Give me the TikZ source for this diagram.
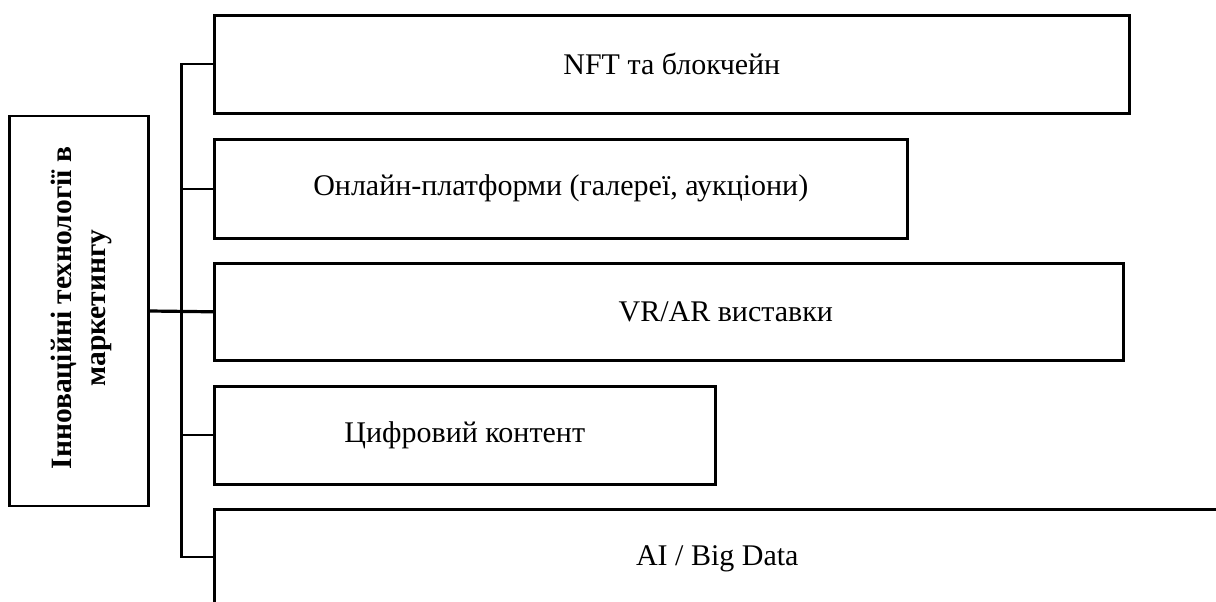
\documentclass[tikz,border=0pt]{standalone}
\usepackage{fontspec}
\setmainfont{Liberation Serif}
\begin{document}
\begin{tikzpicture}[x=1pt,y=-1pt,
  itembox/.style={draw, line width=2.6pt, inner sep=0pt, anchor=north west,
    font=\fontsize{30}{33}\selectfont},
  rootbox/.style={draw, line width=2.4pt, inner sep=0pt, minimum width=139pt, minimum height=390pt},
  branch/.style={line width=2.2pt},
  mainline/.style={line width=3.2pt}]
\useasboundingbox (0,0) rectangle (1216,602);
\clip (0,0) rectangle (1216,602);
\node[rootbox] (root) at (79,311) {};
\node[rotate=90, align=center, font=\bfseries\fontsize{29.5}{34}\selectfont] (roottext) at (81,308)
  {Інноваційні технології в\\маркетингу};
\node[itembox, minimum width=915pt, minimum height=98pt] (nft) at (213,14) {NFT та блокчейн};
\node[itembox, minimum width=693pt, minimum height=99pt] (onl) at (213,138) {Онлайн-платформи (галереї, аукціони)};
\node[itembox, minimum width=909pt, minimum height=97pt] (vr) at (213,262) {\hspace*{114pt}VR/AR виставки};
\node[itembox, minimum width=501pt, minimum height=98pt] (dig) at (213,385) {Цифровий контент};
\node[itembox, minimum width=1006pt, minimum height=100pt] (ai) at (213,508) {AI / Big Data};
\coordinate (t) at (181.5,0);
\coordinate (aiw) at (213,557);
\draw[branch] (nft.west) -- (nft.west -| t) -- (aiw -| t) -- (aiw);
\draw[branch] (onl.west) -- (onl.west -| t);
\draw[branch] (dig.west) -- (dig.west -| t);
\draw[mainline] (root.east) -- (vr.west);
\end{tikzpicture}
\end{document}
